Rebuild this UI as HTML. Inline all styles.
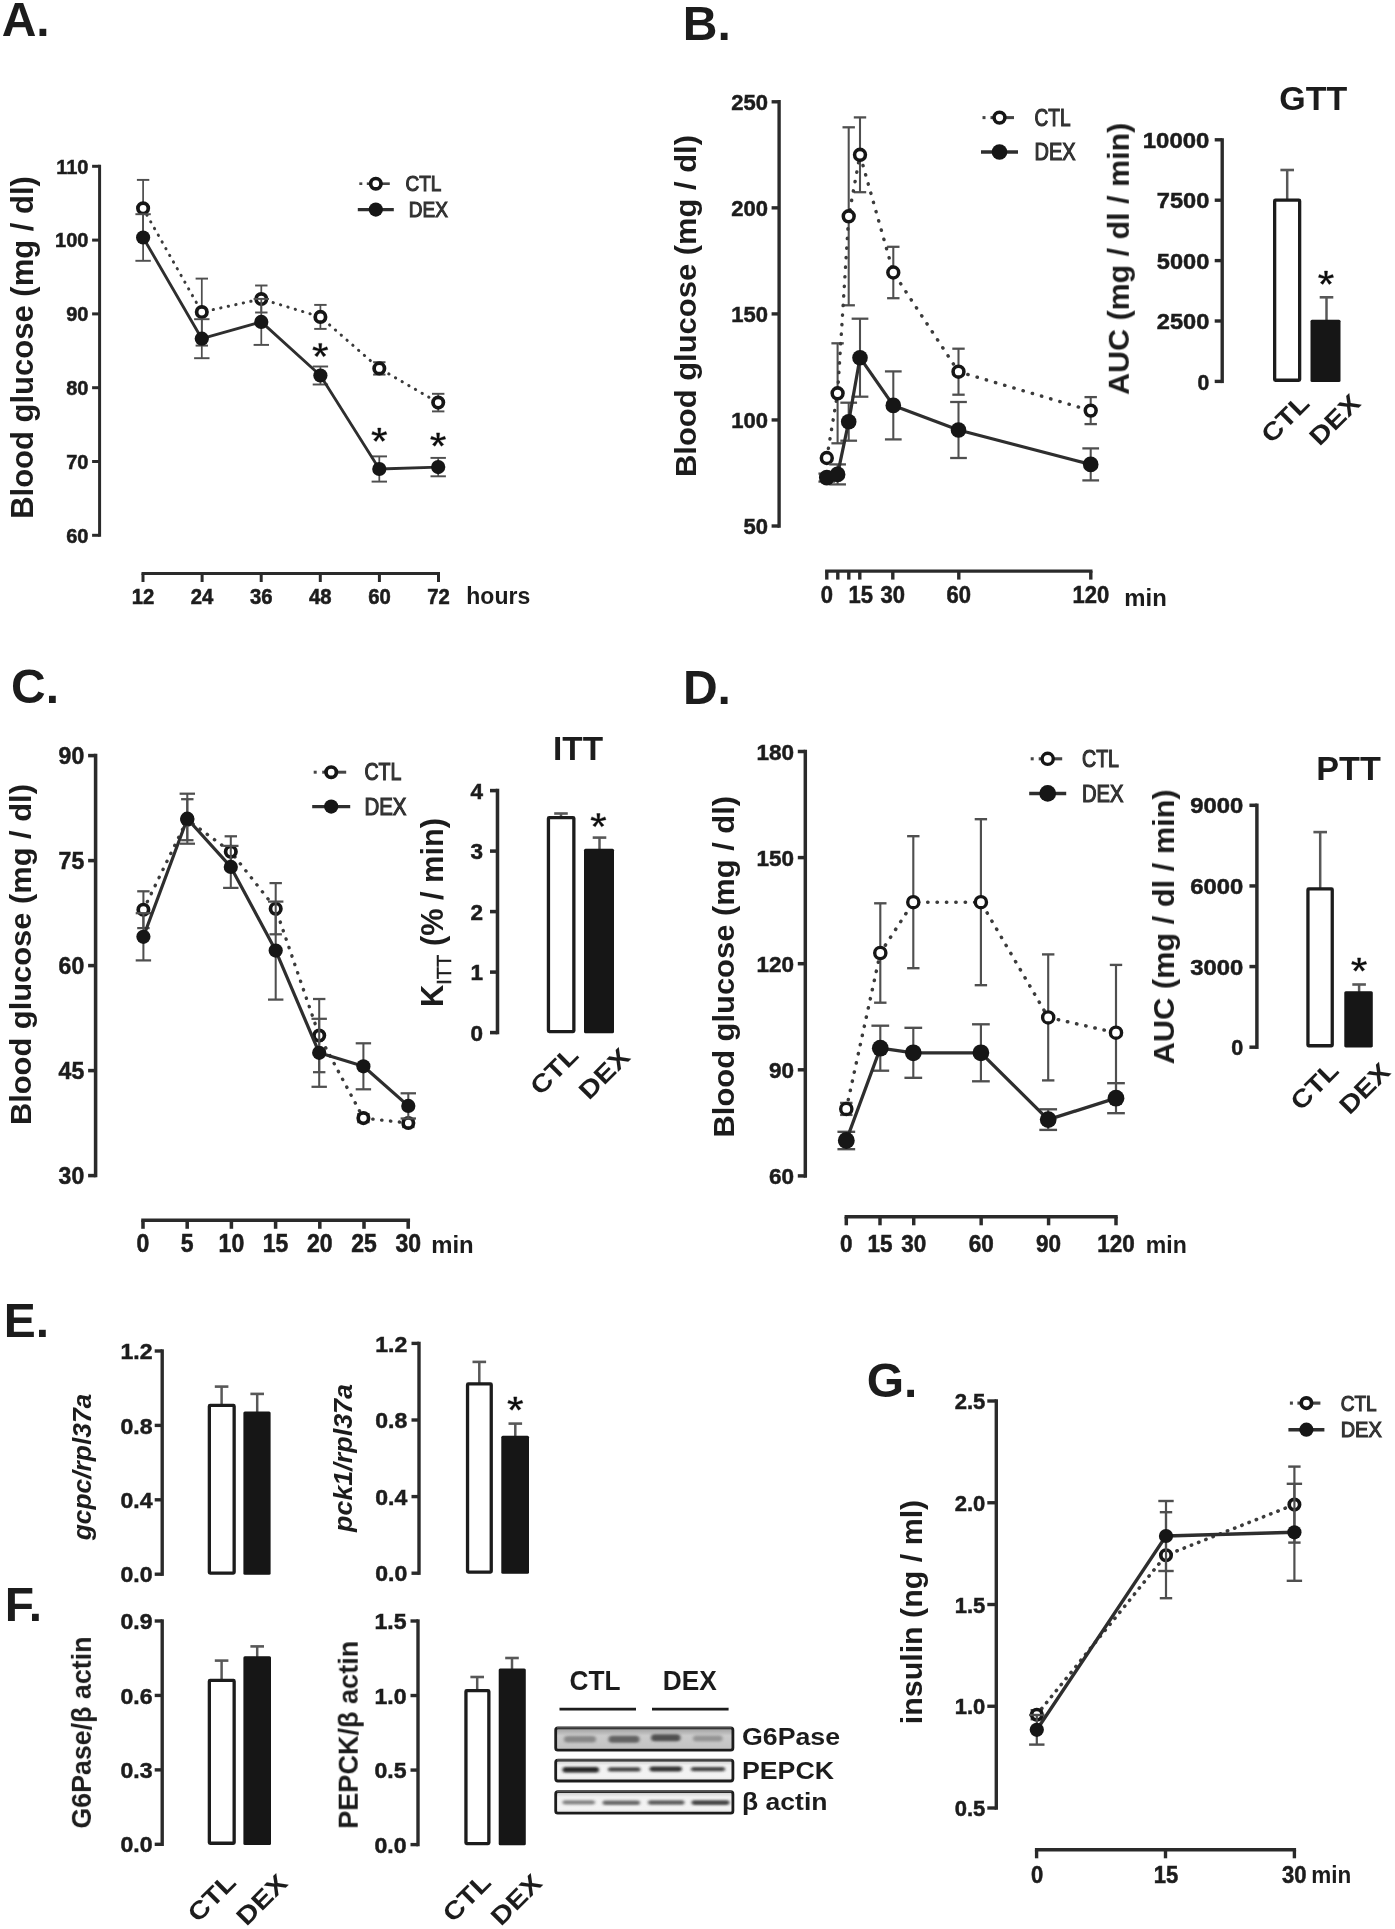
<!DOCTYPE html>
<html><head><meta charset="utf-8"><title>Figure</title>
<style>
html,body{margin:0;padding:0;background:#fff;}
svg{display:block;font-family:"Liberation Sans",sans-serif;font-weight:bold;fill:#1c1c1c;}
</style></head><body>
<svg width="1395" height="1929" viewBox="0 0 1395 1929">
<defs>
<linearGradient id="g1" x1="0" y1="0" x2="0" y2="1"><stop offset="0" stop-color="#9c9c9c"/><stop offset="0.35" stop-color="#cbcbcb"/><stop offset="1" stop-color="#c2c2c2"/></linearGradient>
<linearGradient id="g2" x1="0" y1="0" x2="0" y2="1"><stop offset="0" stop-color="#c8c8c8"/><stop offset="0.25" stop-color="#f1f1f1"/><stop offset="0.8" stop-color="#f3f3f3"/><stop offset="1" stop-color="#dcdcdc"/></linearGradient>
<filter id="bb" x="-20%" y="-100%" width="140%" height="300%"><feGaussianBlur stdDeviation="1.6 1.1"/></filter>
<filter id="bl" x="-5%" y="-5%" width="110%" height="110%"><feGaussianBlur stdDeviation="0.5"/></filter>
<filter id="mid" x="-2%" y="-2%" width="104%" height="104%"><feGaussianBlur stdDeviation="0.65"/></filter>
<filter id="sharp" x="-2%" y="-2%" width="104%" height="104%"><feGaussianBlur stdDeviation="0.5"/></filter>
<filter id="soft" x="-2%" y="-2%" width="104%" height="104%"><feGaussianBlur stdDeviation="0.75"/></filter>
</defs>
<rect x="0" y="0" width="1395" height="1929" fill="#fff"/>
<g filter="url(#soft)">
<line x1="99.6" y1="164.8" x2="99.6" y2="536.8" stroke="#2b2b2b" stroke-width="3"/>
<line x1="92.1" y1="166.3" x2="99.6" y2="166.3" stroke="#2b2b2b" stroke-width="3"/>
<text x="88.4" y="173.6" font-size="20" text-anchor="end" stroke="#1c1c1c" stroke-width="0.5">110</text>
<line x1="92.1" y1="240.1" x2="99.6" y2="240.1" stroke="#2b2b2b" stroke-width="3"/>
<text x="88.4" y="247.4" font-size="20" text-anchor="end" stroke="#1c1c1c" stroke-width="0.5">100</text>
<line x1="92.1" y1="313.9" x2="99.6" y2="313.9" stroke="#2b2b2b" stroke-width="3"/>
<text x="88.4" y="321.2" font-size="20" text-anchor="end" stroke="#1c1c1c" stroke-width="0.5">90</text>
<line x1="92.1" y1="387.7" x2="99.6" y2="387.7" stroke="#2b2b2b" stroke-width="3"/>
<text x="88.4" y="395" font-size="20" text-anchor="end" stroke="#1c1c1c" stroke-width="0.5">80</text>
<line x1="92.1" y1="461.5" x2="99.6" y2="461.5" stroke="#2b2b2b" stroke-width="3"/>
<text x="88.4" y="468.8" font-size="20" text-anchor="end" stroke="#1c1c1c" stroke-width="0.5">70</text>
<line x1="92.1" y1="535.3" x2="99.6" y2="535.3" stroke="#2b2b2b" stroke-width="3"/>
<text x="88.4" y="542.6" font-size="20" text-anchor="end" stroke="#1c1c1c" stroke-width="0.5">60</text>
<line x1="141.5" y1="573.5" x2="440" y2="573.5" stroke="#2b2b2b" stroke-width="3"/>
<line x1="143" y1="573.5" x2="143" y2="582" stroke="#2b2b2b" stroke-width="3"/>
<line x1="202.1" y1="573.5" x2="202.1" y2="582" stroke="#2b2b2b" stroke-width="3"/>
<line x1="261.2" y1="573.5" x2="261.2" y2="582" stroke="#2b2b2b" stroke-width="3"/>
<line x1="320.3" y1="573.5" x2="320.3" y2="582" stroke="#2b2b2b" stroke-width="3"/>
<line x1="379.4" y1="573.5" x2="379.4" y2="582" stroke="#2b2b2b" stroke-width="3"/>
<line x1="438.5" y1="573.5" x2="438.5" y2="582" stroke="#2b2b2b" stroke-width="3"/>
<text x="0" y="0" font-size="19.5" text-anchor="middle" transform="translate(143 603.8) scale(1.04 1.14)" stroke="#1c1c1c" stroke-width="0.5">12</text>
<text x="0" y="0" font-size="19.5" text-anchor="middle" transform="translate(202.1 603.8) scale(1.04 1.14)" stroke="#1c1c1c" stroke-width="0.5">24</text>
<text x="0" y="0" font-size="19.5" text-anchor="middle" transform="translate(261.2 603.8) scale(1.04 1.14)" stroke="#1c1c1c" stroke-width="0.5">36</text>
<text x="0" y="0" font-size="19.5" text-anchor="middle" transform="translate(320.3 603.8) scale(1.04 1.14)" stroke="#1c1c1c" stroke-width="0.5">48</text>
<text x="0" y="0" font-size="19.5" text-anchor="middle" transform="translate(379.4 603.8) scale(1.04 1.14)" stroke="#1c1c1c" stroke-width="0.5">60</text>
<text x="0" y="0" font-size="19.5" text-anchor="middle" transform="translate(438.5 603.8) scale(1.04 1.14)" stroke="#1c1c1c" stroke-width="0.5">72</text>
<text x="0" y="0" font-size="21.5" transform="translate(466.3 603.8) scale(1.07 1.15)">hours</text>
<line x1="143.1" y1="179.9" x2="143.1" y2="236.7" stroke="#505050" stroke-width="1.75"/>
<line x1="136.9" y1="179.9" x2="149.3" y2="179.9" stroke="#505050" stroke-width="1.95"/>
<line x1="136.9" y1="236.7" x2="149.3" y2="236.7" stroke="#505050" stroke-width="1.95"/>
<line x1="201.8" y1="278.6" x2="201.8" y2="345.6" stroke="#505050" stroke-width="1.75"/>
<line x1="195.6" y1="278.6" x2="208" y2="278.6" stroke="#505050" stroke-width="1.95"/>
<line x1="195.6" y1="345.6" x2="208" y2="345.6" stroke="#505050" stroke-width="1.95"/>
<line x1="261.3" y1="285.5" x2="261.3" y2="312.5" stroke="#505050" stroke-width="1.75"/>
<line x1="255.1" y1="285.5" x2="267.5" y2="285.5" stroke="#505050" stroke-width="1.95"/>
<line x1="255.1" y1="312.5" x2="267.5" y2="312.5" stroke="#505050" stroke-width="1.95"/>
<line x1="320.4" y1="304.9" x2="320.4" y2="328.9" stroke="#505050" stroke-width="1.75"/>
<line x1="314.2" y1="304.9" x2="326.6" y2="304.9" stroke="#505050" stroke-width="1.95"/>
<line x1="314.2" y1="328.9" x2="326.6" y2="328.9" stroke="#505050" stroke-width="1.95"/>
<line x1="379.3" y1="362.2" x2="379.3" y2="374.6" stroke="#505050" stroke-width="1.75"/>
<line x1="373.1" y1="362.2" x2="385.5" y2="362.2" stroke="#505050" stroke-width="1.95"/>
<line x1="373.1" y1="374.6" x2="385.5" y2="374.6" stroke="#505050" stroke-width="1.95"/>
<line x1="438.2" y1="393.8" x2="438.2" y2="411.4" stroke="#505050" stroke-width="1.75"/>
<line x1="432" y1="393.8" x2="444.4" y2="393.8" stroke="#505050" stroke-width="1.95"/>
<line x1="432" y1="411.4" x2="444.4" y2="411.4" stroke="#505050" stroke-width="1.95"/>
<path d="M143.1 208.3 L201.8 312.1 L261.3 299 L320.4 316.9 L379.3 368.4 L438.2 402.6" fill="none" stroke="#3a3a3a" stroke-width="3" stroke-dasharray="0.3 7.4" stroke-linecap="round"/>
<circle cx="143.1" cy="208.3" r="5.2" fill="#fff" stroke="#141414" stroke-width="3.7"/>
<circle cx="201.8" cy="312.1" r="5.2" fill="#fff" stroke="#141414" stroke-width="3.7"/>
<circle cx="261.3" cy="299" r="5.2" fill="#fff" stroke="#141414" stroke-width="3.7"/>
<circle cx="320.4" cy="316.9" r="5.2" fill="#fff" stroke="#141414" stroke-width="3.7"/>
<circle cx="379.3" cy="368.4" r="5.2" fill="#fff" stroke="#141414" stroke-width="3.7"/>
<circle cx="438.2" cy="402.6" r="5.2" fill="#fff" stroke="#141414" stroke-width="3.7"/>
<line x1="143.1" y1="214.2" x2="143.1" y2="260.8" stroke="#505050" stroke-width="1.75"/>
<line x1="135.4" y1="214.2" x2="150.8" y2="214.2" stroke="#505050" stroke-width="1.95"/>
<line x1="135.4" y1="260.8" x2="150.8" y2="260.8" stroke="#505050" stroke-width="1.95"/>
<line x1="201.8" y1="319.2" x2="201.8" y2="358.2" stroke="#505050" stroke-width="1.75"/>
<line x1="194.1" y1="319.2" x2="209.5" y2="319.2" stroke="#505050" stroke-width="1.95"/>
<line x1="194.1" y1="358.2" x2="209.5" y2="358.2" stroke="#505050" stroke-width="1.95"/>
<line x1="261.3" y1="298.9" x2="261.3" y2="344.9" stroke="#505050" stroke-width="1.75"/>
<line x1="253.6" y1="298.9" x2="269" y2="298.9" stroke="#505050" stroke-width="1.95"/>
<line x1="253.6" y1="344.9" x2="269" y2="344.9" stroke="#505050" stroke-width="1.95"/>
<line x1="320.4" y1="366.5" x2="320.4" y2="384.5" stroke="#505050" stroke-width="1.75"/>
<line x1="312.7" y1="366.5" x2="328.1" y2="366.5" stroke="#505050" stroke-width="1.95"/>
<line x1="312.7" y1="384.5" x2="328.1" y2="384.5" stroke="#505050" stroke-width="1.95"/>
<line x1="379.3" y1="456.4" x2="379.3" y2="481.6" stroke="#505050" stroke-width="1.75"/>
<line x1="371.6" y1="456.4" x2="387" y2="456.4" stroke="#505050" stroke-width="1.95"/>
<line x1="371.6" y1="481.6" x2="387" y2="481.6" stroke="#505050" stroke-width="1.95"/>
<line x1="438.2" y1="457.9" x2="438.2" y2="476.3" stroke="#505050" stroke-width="1.75"/>
<line x1="430.5" y1="457.9" x2="445.9" y2="457.9" stroke="#505050" stroke-width="1.95"/>
<line x1="430.5" y1="476.3" x2="445.9" y2="476.3" stroke="#505050" stroke-width="1.95"/>
<path d="M143.1 237.5 L201.8 338.7 L261.3 321.9 L320.4 375.5 L379.3 469 L438.2 467.1" fill="none" stroke="#2e2e2e" stroke-width="2.85" stroke-linejoin="round"/>
<circle cx="143.1" cy="237.5" r="7.1" fill="#141414"/>
<circle cx="201.8" cy="338.7" r="7.1" fill="#141414"/>
<circle cx="261.3" cy="321.9" r="7.1" fill="#141414"/>
<circle cx="320.4" cy="375.5" r="7.1" fill="#141414"/>
<circle cx="379.3" cy="469" r="7.1" fill="#141414"/>
<circle cx="438.2" cy="467.1" r="7.1" fill="#141414"/>
<line x1="359.3" y1="183.7" x2="362.3" y2="183.7" stroke="#444" stroke-width="2.65"/>
<line x1="366.8" y1="183.7" x2="389.8" y2="183.7" stroke="#444" stroke-width="2.65"/>
<circle cx="375.8" cy="183.7" r="5.2" fill="#fff" stroke="#141414" stroke-width="3.7"/>
<line x1="357.8" y1="209.6" x2="393.8" y2="209.6" stroke="#2e2e2e" stroke-width="3.05"/>
<circle cx="375.8" cy="209.6" r="7.1" fill="#141414"/>
<text x="0" y="0" font-size="19" font-weight="normal" fill="#333" transform="translate(405.5 191.34) scale(1 1.12)" stroke="#2e2e2e" stroke-width="0.95">CTL</text>
<text x="0" y="0" font-size="19" font-weight="normal" fill="#333" transform="translate(408.8 217.24) scale(1 1.12)" stroke="#2e2e2e" stroke-width="0.95">DEX</text>
<path d="M321.16 350.3 L321.87 343.4 L318.73 343.4 L319.44 350.3Z M320.57 351.06 L327.87 349.55 L326.9 346.79 L320.03 349.54Z M319.6 350.77 L323.41 356.73 L325.95 355.03 L321 349.83Z M319.6 349.83 L314.65 355.03 L317.19 356.73 L321 350.77Z M320.57 349.54 L313.7 346.79 L312.73 349.55 L320.03 351.06Z" fill="#111" stroke="#111" stroke-width="0.4" stroke-linejoin="round"/>
<circle cx="320.3" cy="350.3" r="1.5" fill="#111"/>
<path d="M380.16 435 L380.87 428.1 L377.73 428.1 L378.44 435Z M379.57 435.76 L386.87 434.25 L385.9 431.49 L379.03 434.24Z M378.6 435.47 L382.41 441.43 L384.95 439.73 L380 434.53Z M378.6 434.53 L373.65 439.73 L376.19 441.43 L380 435.47Z M379.57 434.24 L372.7 431.49 L371.73 434.25 L379.03 435.76Z" fill="#111" stroke="#111" stroke-width="0.4" stroke-linejoin="round"/>
<circle cx="379.3" cy="435" r="1.5" fill="#111"/>
<path d="M438.96 439.8 L439.67 432.9 L436.53 432.9 L437.24 439.8Z M438.37 440.56 L445.67 439.05 L444.7 436.29 L437.83 439.04Z M437.4 440.27 L441.21 446.23 L443.75 444.53 L438.8 439.33Z M437.4 439.33 L432.45 444.53 L434.99 446.23 L438.8 440.27Z M438.37 439.04 L431.5 436.29 L430.53 439.05 L437.83 440.56Z" fill="#111" stroke="#111" stroke-width="0.4" stroke-linejoin="round"/>
<circle cx="438.1" cy="439.8" r="1.5" fill="#111"/>
<line x1="779.1" y1="100.11" x2="779.1" y2="527.7" stroke="#2b2b2b" stroke-width="3.39"/>
<line x1="771.6" y1="101.8" x2="779.1" y2="101.8" stroke="#2b2b2b" stroke-width="3.39"/>
<text x="768" y="109.8" font-size="22" text-anchor="end" stroke="#1c1c1c" stroke-width="0.5">250</text>
<line x1="771.6" y1="207.85" x2="779.1" y2="207.85" stroke="#2b2b2b" stroke-width="3.39"/>
<text x="768" y="215.85" font-size="22" text-anchor="end" stroke="#1c1c1c" stroke-width="0.5">200</text>
<line x1="771.6" y1="313.9" x2="779.1" y2="313.9" stroke="#2b2b2b" stroke-width="3.39"/>
<text x="768" y="321.9" font-size="22" text-anchor="end" stroke="#1c1c1c" stroke-width="0.5">150</text>
<line x1="771.6" y1="419.95" x2="779.1" y2="419.95" stroke="#2b2b2b" stroke-width="3.39"/>
<text x="768" y="427.95" font-size="22" text-anchor="end" stroke="#1c1c1c" stroke-width="0.5">100</text>
<line x1="771.6" y1="526" x2="779.1" y2="526" stroke="#2b2b2b" stroke-width="3.39"/>
<text x="768" y="534" font-size="22" text-anchor="end" stroke="#1c1c1c" stroke-width="0.5">50</text>
<line x1="825.1" y1="571.1" x2="1092.49" y2="571.1" stroke="#2b2b2b" stroke-width="3.39"/>
<line x1="826.8" y1="571.1" x2="826.8" y2="579.6" stroke="#2b2b2b" stroke-width="3.39"/>
<line x1="837.8" y1="571.1" x2="837.8" y2="579.6" stroke="#2b2b2b" stroke-width="3.39"/>
<line x1="848.8" y1="571.1" x2="848.8" y2="579.6" stroke="#2b2b2b" stroke-width="3.39"/>
<line x1="859.8" y1="571.1" x2="859.8" y2="579.6" stroke="#2b2b2b" stroke-width="3.39"/>
<line x1="892.8" y1="571.1" x2="892.8" y2="579.6" stroke="#2b2b2b" stroke-width="3.39"/>
<line x1="958.8" y1="571.1" x2="958.8" y2="579.6" stroke="#2b2b2b" stroke-width="3.39"/>
<line x1="1090.8" y1="571.1" x2="1090.8" y2="579.6" stroke="#2b2b2b" stroke-width="3.39"/>
<text x="0" y="0" font-size="22" text-anchor="middle" transform="translate(826.8 603.3) scale(1 1.1)" stroke="#1c1c1c" stroke-width="0.5">0</text>
<text x="0" y="0" font-size="22" text-anchor="middle" transform="translate(860.8 603.3) scale(1 1.1)" stroke="#1c1c1c" stroke-width="0.5">15</text>
<text x="0" y="0" font-size="22" text-anchor="middle" transform="translate(892.8 603.3) scale(1 1.1)" stroke="#1c1c1c" stroke-width="0.5">30</text>
<text x="0" y="0" font-size="22" text-anchor="middle" transform="translate(958.8 603.3) scale(1 1.1)" stroke="#1c1c1c" stroke-width="0.5">60</text>
<text x="0" y="0" font-size="22" text-anchor="middle" transform="translate(1090.8 603.3) scale(1 1.1)" stroke="#1c1c1c" stroke-width="0.5">120</text>
<text x="0" y="0" font-size="22.5" textLength="42.5" lengthAdjust="spacingAndGlyphs" transform="translate(1124.3 605.6) scale(1 1.06)">min</text>
<line x1="837.6" y1="343.3" x2="837.6" y2="443.3" stroke="#505050" stroke-width="2.08"/>
<line x1="831.4" y1="343.3" x2="843.8" y2="343.3" stroke="#505050" stroke-width="2.28"/>
<line x1="831.4" y1="443.3" x2="843.8" y2="443.3" stroke="#505050" stroke-width="2.28"/>
<line x1="848.7" y1="127.3" x2="848.7" y2="305.3" stroke="#505050" stroke-width="2.08"/>
<line x1="842.5" y1="127.3" x2="854.9" y2="127.3" stroke="#505050" stroke-width="2.28"/>
<line x1="842.5" y1="305.3" x2="854.9" y2="305.3" stroke="#505050" stroke-width="2.28"/>
<line x1="860" y1="117.4" x2="860" y2="192.2" stroke="#505050" stroke-width="2.08"/>
<line x1="853.8" y1="117.4" x2="866.2" y2="117.4" stroke="#505050" stroke-width="2.28"/>
<line x1="853.8" y1="192.2" x2="866.2" y2="192.2" stroke="#505050" stroke-width="2.28"/>
<line x1="893.3" y1="246.8" x2="893.3" y2="298.2" stroke="#505050" stroke-width="2.08"/>
<line x1="887.1" y1="246.8" x2="899.5" y2="246.8" stroke="#505050" stroke-width="2.28"/>
<line x1="887.1" y1="298.2" x2="899.5" y2="298.2" stroke="#505050" stroke-width="2.28"/>
<line x1="958.5" y1="348.7" x2="958.5" y2="394.7" stroke="#505050" stroke-width="2.08"/>
<line x1="952.3" y1="348.7" x2="964.7" y2="348.7" stroke="#505050" stroke-width="2.28"/>
<line x1="952.3" y1="394.7" x2="964.7" y2="394.7" stroke="#505050" stroke-width="2.28"/>
<line x1="1090.7" y1="397.1" x2="1090.7" y2="424.1" stroke="#505050" stroke-width="2.08"/>
<line x1="1084.5" y1="397.1" x2="1096.9" y2="397.1" stroke="#505050" stroke-width="2.28"/>
<line x1="1084.5" y1="424.1" x2="1096.9" y2="424.1" stroke="#505050" stroke-width="2.28"/>
<path d="M826.8 458 L837.6 393.3 L848.7 216.3 L860 154.8 L893.3 272.5 L958.5 371.7 L1090.7 410.6" fill="none" stroke="#3a3a3a" stroke-width="3.39" stroke-dasharray="0.34 9.25" stroke-linecap="round"/>
<circle cx="826.8" cy="458" r="5.42" fill="#fff" stroke="#141414" stroke-width="3.52"/>
<circle cx="837.6" cy="393.3" r="5.42" fill="#fff" stroke="#141414" stroke-width="3.52"/>
<circle cx="848.7" cy="216.3" r="5.42" fill="#fff" stroke="#141414" stroke-width="3.52"/>
<circle cx="860" cy="154.8" r="5.42" fill="#fff" stroke="#141414" stroke-width="3.52"/>
<circle cx="893.3" cy="272.5" r="5.42" fill="#fff" stroke="#141414" stroke-width="3.52"/>
<circle cx="958.5" cy="371.7" r="5.42" fill="#fff" stroke="#141414" stroke-width="3.52"/>
<circle cx="1090.7" cy="410.6" r="5.42" fill="#fff" stroke="#141414" stroke-width="3.52"/>
<line x1="826.8" y1="473.6" x2="826.8" y2="481.6" stroke="#505050" stroke-width="2.08"/>
<line x1="818.44" y1="473.6" x2="835.16" y2="473.6" stroke="#505050" stroke-width="2.28"/>
<line x1="818.44" y1="481.6" x2="835.16" y2="481.6" stroke="#505050" stroke-width="2.28"/>
<line x1="837.6" y1="464.4" x2="837.6" y2="484.4" stroke="#505050" stroke-width="2.08"/>
<line x1="829.24" y1="464.4" x2="845.96" y2="464.4" stroke="#505050" stroke-width="2.28"/>
<line x1="829.24" y1="484.4" x2="845.96" y2="484.4" stroke="#505050" stroke-width="2.28"/>
<line x1="848.7" y1="402.7" x2="848.7" y2="440.7" stroke="#505050" stroke-width="2.08"/>
<line x1="840.34" y1="402.7" x2="857.06" y2="402.7" stroke="#505050" stroke-width="2.28"/>
<line x1="840.34" y1="440.7" x2="857.06" y2="440.7" stroke="#505050" stroke-width="2.28"/>
<line x1="860" y1="318.7" x2="860" y2="396.7" stroke="#505050" stroke-width="2.08"/>
<line x1="851.64" y1="318.7" x2="868.36" y2="318.7" stroke="#505050" stroke-width="2.28"/>
<line x1="851.64" y1="396.7" x2="868.36" y2="396.7" stroke="#505050" stroke-width="2.28"/>
<line x1="893.3" y1="371.4" x2="893.3" y2="439.4" stroke="#505050" stroke-width="2.08"/>
<line x1="884.94" y1="371.4" x2="901.66" y2="371.4" stroke="#505050" stroke-width="2.28"/>
<line x1="884.94" y1="439.4" x2="901.66" y2="439.4" stroke="#505050" stroke-width="2.28"/>
<line x1="958.5" y1="402" x2="958.5" y2="458" stroke="#505050" stroke-width="2.08"/>
<line x1="950.14" y1="402" x2="966.86" y2="402" stroke="#505050" stroke-width="2.28"/>
<line x1="950.14" y1="458" x2="966.86" y2="458" stroke="#505050" stroke-width="2.28"/>
<line x1="1090.7" y1="448.4" x2="1090.7" y2="480.4" stroke="#505050" stroke-width="2.08"/>
<line x1="1082.34" y1="448.4" x2="1099.06" y2="448.4" stroke="#505050" stroke-width="2.28"/>
<line x1="1082.34" y1="480.4" x2="1099.06" y2="480.4" stroke="#505050" stroke-width="2.28"/>
<path d="M826.8 477.6 L837.6 474.4 L848.7 421.7 L860 357.7 L893.3 405.4 L958.5 430 L1090.7 464.4" fill="none" stroke="#2e2e2e" stroke-width="3.22" stroke-linejoin="round"/>
<circle cx="826.8" cy="477.6" r="7.82" fill="#141414"/>
<circle cx="837.6" cy="474.4" r="7.82" fill="#141414"/>
<circle cx="848.7" cy="421.7" r="7.82" fill="#141414"/>
<circle cx="860" cy="357.7" r="7.82" fill="#141414"/>
<circle cx="893.3" cy="405.4" r="7.82" fill="#141414"/>
<circle cx="958.5" cy="430" r="7.82" fill="#141414"/>
<circle cx="1090.7" cy="464.4" r="7.82" fill="#141414"/>
<line x1="982.5" y1="117.6" x2="985.5" y2="117.6" stroke="#444" stroke-width="3.02"/>
<line x1="990.5" y1="117.6" x2="1014" y2="117.6" stroke="#444" stroke-width="3.02"/>
<circle cx="999.5" cy="117.6" r="5.42" fill="#fff" stroke="#141414" stroke-width="3.52"/>
<line x1="981" y1="152" x2="1018" y2="152" stroke="#2e2e2e" stroke-width="3.42"/>
<circle cx="999.5" cy="152" r="7.82" fill="#141414"/>
<text x="0" y="0" font-size="20" textLength="36" lengthAdjust="spacingAndGlyphs" font-weight="normal" fill="#333" transform="translate(1034.6 125.7) scale(1 1.15)" stroke="#2e2e2e" stroke-width="0.95">CTL</text>
<text x="0" y="0" font-size="20" textLength="41" lengthAdjust="spacingAndGlyphs" font-weight="normal" fill="#333" transform="translate(1034.6 160.1) scale(1 1.15)" stroke="#2e2e2e" stroke-width="0.95">DEX</text>
<line x1="1222.2" y1="138.21" x2="1222.2" y2="383.09" stroke="#2b2b2b" stroke-width="3.39"/>
<line x1="1214.7" y1="139.8" x2="1222.2" y2="139.8" stroke="#2b2b2b" stroke-width="3.39"/>
<text x="1209.3" y="147.9" font-size="22.5" text-anchor="end" textLength="66.5" lengthAdjust="spacingAndGlyphs" stroke="#1c1c1c" stroke-width="0.5">10000</text>
<line x1="1214.7" y1="200.2" x2="1222.2" y2="200.2" stroke="#2b2b2b" stroke-width="3.39"/>
<text x="1209.3" y="208.3" font-size="22.5" text-anchor="end" textLength="52.5" lengthAdjust="spacingAndGlyphs" stroke="#1c1c1c" stroke-width="0.5">7500</text>
<line x1="1214.7" y1="260.6" x2="1222.2" y2="260.6" stroke="#2b2b2b" stroke-width="3.39"/>
<text x="1209.3" y="268.7" font-size="22.5" text-anchor="end" textLength="52.5" lengthAdjust="spacingAndGlyphs" stroke="#1c1c1c" stroke-width="0.5">5000</text>
<line x1="1214.7" y1="321" x2="1222.2" y2="321" stroke="#2b2b2b" stroke-width="3.39"/>
<text x="1209.3" y="329.1" font-size="22.5" text-anchor="end" textLength="52.5" lengthAdjust="spacingAndGlyphs" stroke="#1c1c1c" stroke-width="0.5">2500</text>
<line x1="1214.7" y1="381.4" x2="1222.2" y2="381.4" stroke="#2b2b2b" stroke-width="3.39"/>
<text x="1209.3" y="389.5" font-size="22.5" text-anchor="end" textLength="11.8" lengthAdjust="spacingAndGlyphs" stroke="#1c1c1c" stroke-width="0.5">0</text>
<line x1="1287.2" y1="170" x2="1287.2" y2="200.5" stroke="#585858" stroke-width="2.5"/>
<line x1="1280.4" y1="170" x2="1294" y2="170" stroke="#585858" stroke-width="2.6"/>
<line x1="1326.5" y1="297.3" x2="1326.5" y2="321.7" stroke="#585858" stroke-width="2.5"/>
<line x1="1319.7" y1="297.3" x2="1333.3" y2="297.3" stroke="#585858" stroke-width="2.6"/>
<rect x="1274.65" y="200.15" width="25" height="180.1" fill="#fff" stroke="#1c1c1c" stroke-width="3.3" rx="0.8"/>
<rect x="1310.5" y="319.7" width="30" height="62.2" fill="#161616" rx="1.5"/>
<path d="M1326.86 278 L1327.57 271.1 L1324.43 271.1 L1325.14 278Z M1326.27 278.76 L1333.57 277.25 L1332.6 274.49 L1325.73 277.24Z M1325.3 278.47 L1329.11 284.43 L1331.65 282.73 L1326.7 277.53Z M1325.3 277.53 L1320.35 282.73 L1322.89 284.43 L1326.7 278.47Z M1326.27 277.24 L1319.4 274.49 L1318.43 277.25 L1325.73 278.76Z" fill="#111" stroke="#111" stroke-width="0.4" stroke-linejoin="round"/>
<circle cx="1326" cy="278" r="1.5" fill="#111"/>
<line x1="95.6" y1="753.63" x2="95.6" y2="1177.37" stroke="#2b2b2b" stroke-width="3.54"/>
<line x1="88.1" y1="755.6" x2="95.6" y2="755.6" stroke="#2b2b2b" stroke-width="3.54"/>
<text x="84.2" y="763.9" font-size="23" text-anchor="end" stroke="#1c1c1c" stroke-width="0.5">90</text>
<line x1="88.1" y1="860.6" x2="95.6" y2="860.6" stroke="#2b2b2b" stroke-width="3.54"/>
<text x="84.2" y="868.9" font-size="23" text-anchor="end" stroke="#1c1c1c" stroke-width="0.5">75</text>
<line x1="88.1" y1="965.6" x2="95.6" y2="965.6" stroke="#2b2b2b" stroke-width="3.54"/>
<text x="84.2" y="973.9" font-size="23" text-anchor="end" stroke="#1c1c1c" stroke-width="0.5">60</text>
<line x1="88.1" y1="1070.6" x2="95.6" y2="1070.6" stroke="#2b2b2b" stroke-width="3.54"/>
<text x="84.2" y="1078.9" font-size="23" text-anchor="end" stroke="#1c1c1c" stroke-width="0.5">45</text>
<line x1="88.1" y1="1175.6" x2="95.6" y2="1175.6" stroke="#2b2b2b" stroke-width="3.54"/>
<text x="84.2" y="1183.9" font-size="23" text-anchor="end" stroke="#1c1c1c" stroke-width="0.5">30</text>
<line x1="141.23" y1="1220.3" x2="410.07" y2="1220.3" stroke="#2b2b2b" stroke-width="3.54"/>
<line x1="143" y1="1220.3" x2="143" y2="1228.8" stroke="#2b2b2b" stroke-width="3.54"/>
<line x1="187.2" y1="1220.3" x2="187.2" y2="1228.8" stroke="#2b2b2b" stroke-width="3.54"/>
<line x1="231.4" y1="1220.3" x2="231.4" y2="1228.8" stroke="#2b2b2b" stroke-width="3.54"/>
<line x1="275.6" y1="1220.3" x2="275.6" y2="1228.8" stroke="#2b2b2b" stroke-width="3.54"/>
<line x1="319.8" y1="1220.3" x2="319.8" y2="1228.8" stroke="#2b2b2b" stroke-width="3.54"/>
<line x1="364" y1="1220.3" x2="364" y2="1228.8" stroke="#2b2b2b" stroke-width="3.54"/>
<line x1="408.2" y1="1220.3" x2="408.2" y2="1228.8" stroke="#2b2b2b" stroke-width="3.54"/>
<text x="0" y="0" font-size="23" text-anchor="middle" transform="translate(143 1252.4) scale(1 1.1)" stroke="#1c1c1c" stroke-width="0.5">0</text>
<text x="0" y="0" font-size="23" text-anchor="middle" transform="translate(187.2 1252.4) scale(1 1.1)" stroke="#1c1c1c" stroke-width="0.5">5</text>
<text x="0" y="0" font-size="23" text-anchor="middle" transform="translate(231.4 1252.4) scale(1 1.1)" stroke="#1c1c1c" stroke-width="0.5">10</text>
<text x="0" y="0" font-size="23" text-anchor="middle" transform="translate(275.6 1252.4) scale(1 1.1)" stroke="#1c1c1c" stroke-width="0.5">15</text>
<text x="0" y="0" font-size="23" text-anchor="middle" transform="translate(319.8 1252.4) scale(1 1.1)" stroke="#1c1c1c" stroke-width="0.5">20</text>
<text x="0" y="0" font-size="23" text-anchor="middle" transform="translate(364 1252.4) scale(1 1.1)" stroke="#1c1c1c" stroke-width="0.5">25</text>
<text x="0" y="0" font-size="23" text-anchor="middle" transform="translate(408.2 1252.4) scale(1 1.1)" stroke="#1c1c1c" stroke-width="0.5">30</text>
<text x="0" y="0" font-size="22.5" textLength="42.5" lengthAdjust="spacingAndGlyphs" transform="translate(431.2 1253) scale(1 1.06)">min</text>
<line x1="143.4" y1="891.3" x2="143.4" y2="928.1" stroke="#505050" stroke-width="2.06"/>
<line x1="137.2" y1="891.3" x2="149.6" y2="891.3" stroke="#505050" stroke-width="2.26"/>
<line x1="137.2" y1="928.1" x2="149.6" y2="928.1" stroke="#505050" stroke-width="2.26"/>
<line x1="187.3" y1="799.2" x2="187.3" y2="840.2" stroke="#505050" stroke-width="2.06"/>
<line x1="181.1" y1="799.2" x2="193.5" y2="799.2" stroke="#505050" stroke-width="2.26"/>
<line x1="181.1" y1="840.2" x2="193.5" y2="840.2" stroke="#505050" stroke-width="2.26"/>
<line x1="230.8" y1="836.3" x2="230.8" y2="867.1" stroke="#505050" stroke-width="2.06"/>
<line x1="224.6" y1="836.3" x2="237" y2="836.3" stroke="#505050" stroke-width="2.26"/>
<line x1="224.6" y1="867.1" x2="237" y2="867.1" stroke="#505050" stroke-width="2.26"/>
<line x1="275.7" y1="883.1" x2="275.7" y2="934.3" stroke="#505050" stroke-width="2.06"/>
<line x1="269.5" y1="883.1" x2="281.9" y2="883.1" stroke="#505050" stroke-width="2.26"/>
<line x1="269.5" y1="934.3" x2="281.9" y2="934.3" stroke="#505050" stroke-width="2.26"/>
<line x1="319.2" y1="999" x2="319.2" y2="1072.2" stroke="#505050" stroke-width="2.06"/>
<line x1="313" y1="999" x2="325.4" y2="999" stroke="#505050" stroke-width="2.26"/>
<line x1="313" y1="1072.2" x2="325.4" y2="1072.2" stroke="#505050" stroke-width="2.26"/>
<line x1="363.4" y1="1114.1" x2="363.4" y2="1122.1" stroke="#505050" stroke-width="2.06"/>
<line x1="357.2" y1="1114.1" x2="369.6" y2="1114.1" stroke="#505050" stroke-width="2.26"/>
<line x1="357.2" y1="1122.1" x2="369.6" y2="1122.1" stroke="#505050" stroke-width="2.26"/>
<line x1="408.3" y1="1119" x2="408.3" y2="1127" stroke="#505050" stroke-width="2.06"/>
<line x1="402.1" y1="1119" x2="414.5" y2="1119" stroke="#505050" stroke-width="2.26"/>
<line x1="402.1" y1="1127" x2="414.5" y2="1127" stroke="#505050" stroke-width="2.26"/>
<path d="M143.4 909.7 L187.3 819.7 L230.8 851.7 L275.7 908.7 L319.2 1035.6 L363.4 1118.1 L408.3 1123" fill="none" stroke="#3a3a3a" stroke-width="3.36" stroke-dasharray="0.34 8.58" stroke-linecap="round"/>
<circle cx="143.4" cy="909.7" r="5.2" fill="#fff" stroke="#141414" stroke-width="3.7"/>
<circle cx="187.3" cy="819.7" r="5.2" fill="#fff" stroke="#141414" stroke-width="3.7"/>
<circle cx="230.8" cy="851.7" r="5.2" fill="#fff" stroke="#141414" stroke-width="3.7"/>
<circle cx="275.7" cy="908.7" r="5.2" fill="#fff" stroke="#141414" stroke-width="3.7"/>
<circle cx="319.2" cy="1035.6" r="5.2" fill="#fff" stroke="#141414" stroke-width="3.7"/>
<circle cx="363.4" cy="1118.1" r="5.2" fill="#fff" stroke="#141414" stroke-width="3.7"/>
<circle cx="408.3" cy="1123" r="5.2" fill="#fff" stroke="#141414" stroke-width="3.7"/>
<line x1="143.4" y1="913.2" x2="143.4" y2="960.4" stroke="#505050" stroke-width="2.06"/>
<line x1="135.7" y1="913.2" x2="151.1" y2="913.2" stroke="#505050" stroke-width="2.26"/>
<line x1="135.7" y1="960.4" x2="151.1" y2="960.4" stroke="#505050" stroke-width="2.26"/>
<line x1="187.3" y1="793.7" x2="187.3" y2="843.7" stroke="#505050" stroke-width="2.06"/>
<line x1="179.6" y1="793.7" x2="195" y2="793.7" stroke="#505050" stroke-width="2.26"/>
<line x1="179.6" y1="843.7" x2="195" y2="843.7" stroke="#505050" stroke-width="2.26"/>
<line x1="230.8" y1="845.9" x2="230.8" y2="887.9" stroke="#505050" stroke-width="2.06"/>
<line x1="223.1" y1="845.9" x2="238.5" y2="845.9" stroke="#505050" stroke-width="2.26"/>
<line x1="223.1" y1="887.9" x2="238.5" y2="887.9" stroke="#505050" stroke-width="2.26"/>
<line x1="275.7" y1="901.6" x2="275.7" y2="999.6" stroke="#505050" stroke-width="2.06"/>
<line x1="268" y1="901.6" x2="283.4" y2="901.6" stroke="#505050" stroke-width="2.26"/>
<line x1="268" y1="999.6" x2="283.4" y2="999.6" stroke="#505050" stroke-width="2.26"/>
<line x1="319.2" y1="1018.8" x2="319.2" y2="1086.8" stroke="#505050" stroke-width="2.06"/>
<line x1="311.5" y1="1018.8" x2="326.9" y2="1018.8" stroke="#505050" stroke-width="2.26"/>
<line x1="311.5" y1="1086.8" x2="326.9" y2="1086.8" stroke="#505050" stroke-width="2.26"/>
<line x1="363.4" y1="1043.3" x2="363.4" y2="1089.3" stroke="#505050" stroke-width="2.06"/>
<line x1="355.7" y1="1043.3" x2="371.1" y2="1043.3" stroke="#505050" stroke-width="2.26"/>
<line x1="355.7" y1="1089.3" x2="371.1" y2="1089.3" stroke="#505050" stroke-width="2.26"/>
<line x1="408.3" y1="1093.3" x2="408.3" y2="1118.5" stroke="#505050" stroke-width="2.06"/>
<line x1="400.6" y1="1093.3" x2="416" y2="1093.3" stroke="#505050" stroke-width="2.26"/>
<line x1="400.6" y1="1118.5" x2="416" y2="1118.5" stroke="#505050" stroke-width="2.26"/>
<path d="M143.4 936.8 L187.3 818.7 L230.8 866.9 L275.7 950.6 L319.2 1052.8 L363.4 1066.3 L408.3 1105.9" fill="none" stroke="#2e2e2e" stroke-width="3.19" stroke-linejoin="round"/>
<circle cx="143.4" cy="936.8" r="7.1" fill="#141414"/>
<circle cx="187.3" cy="818.7" r="7.1" fill="#141414"/>
<circle cx="230.8" cy="866.9" r="7.1" fill="#141414"/>
<circle cx="275.7" cy="950.6" r="7.1" fill="#141414"/>
<circle cx="319.2" cy="1052.8" r="7.1" fill="#141414"/>
<circle cx="363.4" cy="1066.3" r="7.1" fill="#141414"/>
<circle cx="408.3" cy="1105.9" r="7.1" fill="#141414"/>
<line x1="313.7" y1="772.2" x2="316.7" y2="772.2" stroke="#444" stroke-width="2.99"/>
<line x1="322.2" y1="772.2" x2="346.2" y2="772.2" stroke="#444" stroke-width="2.99"/>
<circle cx="331.2" cy="772.2" r="5.2" fill="#fff" stroke="#141414" stroke-width="3.7"/>
<line x1="312.2" y1="806.6" x2="350.2" y2="806.6" stroke="#2e2e2e" stroke-width="3.39"/>
<circle cx="331.2" cy="806.6" r="7.1" fill="#141414"/>
<text x="0" y="0" font-size="20" textLength="37" lengthAdjust="spacingAndGlyphs" font-weight="normal" fill="#333" transform="translate(364.4 780.36) scale(1 1.18)" stroke="#2e2e2e" stroke-width="0.95">CTL</text>
<text x="0" y="0" font-size="20" textLength="42" lengthAdjust="spacingAndGlyphs" font-weight="normal" fill="#333" transform="translate(364.4 814.76) scale(1 1.18)" stroke="#2e2e2e" stroke-width="0.95">DEX</text>
<line x1="497.5" y1="788.83" x2="497.5" y2="1034.37" stroke="#2b2b2b" stroke-width="3.54"/>
<line x1="490" y1="790.6" x2="497.5" y2="790.6" stroke="#2b2b2b" stroke-width="3.54"/>
<text x="483" y="798.7" font-size="22.5" text-anchor="end" stroke="#1c1c1c" stroke-width="0.5">4</text>
<line x1="490" y1="851.1" x2="497.5" y2="851.1" stroke="#2b2b2b" stroke-width="3.54"/>
<text x="483" y="859.2" font-size="22.5" text-anchor="end" stroke="#1c1c1c" stroke-width="0.5">3</text>
<line x1="490" y1="911.6" x2="497.5" y2="911.6" stroke="#2b2b2b" stroke-width="3.54"/>
<text x="483" y="919.7" font-size="22.5" text-anchor="end" stroke="#1c1c1c" stroke-width="0.5">2</text>
<line x1="490" y1="972.1" x2="497.5" y2="972.1" stroke="#2b2b2b" stroke-width="3.54"/>
<text x="483" y="980.2" font-size="22.5" text-anchor="end" stroke="#1c1c1c" stroke-width="0.5">1</text>
<line x1="490" y1="1032.6" x2="497.5" y2="1032.6" stroke="#2b2b2b" stroke-width="3.54"/>
<text x="483" y="1040.7" font-size="22.5" text-anchor="end" stroke="#1c1c1c" stroke-width="0.5">0</text>
<line x1="561" y1="813.5" x2="561" y2="817.9" stroke="#585858" stroke-width="2.5"/>
<line x1="554.2" y1="813.5" x2="567.8" y2="813.5" stroke="#585858" stroke-width="2.6"/>
<line x1="599.5" y1="837.6" x2="599.5" y2="850.7" stroke="#585858" stroke-width="2.5"/>
<line x1="592.7" y1="837.6" x2="606.3" y2="837.6" stroke="#585858" stroke-width="2.6"/>
<rect x="548.45" y="817.55" width="25.4" height="214" fill="#fff" stroke="#1c1c1c" stroke-width="3.3" rx="0.8"/>
<rect x="584" y="848.7" width="30" height="184.5" fill="#161616" rx="1.5"/>
<path d="M599.26 820.4 L599.97 813.5 L596.83 813.5 L597.54 820.4Z M598.67 821.16 L605.97 819.65 L605 816.89 L598.13 819.64Z M597.7 820.87 L601.51 826.83 L604.05 825.13 L599.1 819.93Z M597.7 819.93 L592.75 825.13 L595.29 826.83 L599.1 820.87Z M598.67 819.64 L591.8 816.89 L590.83 819.65 L598.13 821.16Z" fill="#111" stroke="#111" stroke-width="0.4" stroke-linejoin="round"/>
<circle cx="598.4" cy="820.4" r="1.5" fill="#111"/>
<line x1="805.3" y1="749.76" x2="805.3" y2="1177.64" stroke="#2b2b2b" stroke-width="3.48"/>
<line x1="797.8" y1="751.5" x2="805.3" y2="751.5" stroke="#2b2b2b" stroke-width="3.48"/>
<text x="794" y="759.6" font-size="22.5" text-anchor="end" stroke="#1c1c1c" stroke-width="0.5">180</text>
<line x1="797.8" y1="857.6" x2="805.3" y2="857.6" stroke="#2b2b2b" stroke-width="3.48"/>
<text x="794" y="865.7" font-size="22.5" text-anchor="end" stroke="#1c1c1c" stroke-width="0.5">150</text>
<line x1="797.8" y1="963.7" x2="805.3" y2="963.7" stroke="#2b2b2b" stroke-width="3.48"/>
<text x="794" y="971.8" font-size="22.5" text-anchor="end" stroke="#1c1c1c" stroke-width="0.5">120</text>
<line x1="797.8" y1="1069.8" x2="805.3" y2="1069.8" stroke="#2b2b2b" stroke-width="3.48"/>
<text x="794" y="1077.9" font-size="22.5" text-anchor="end" stroke="#1c1c1c" stroke-width="0.5">90</text>
<line x1="797.8" y1="1175.9" x2="805.3" y2="1175.9" stroke="#2b2b2b" stroke-width="3.48"/>
<text x="794" y="1184" font-size="22.5" text-anchor="end" stroke="#1c1c1c" stroke-width="0.5">60</text>
<line x1="844.56" y1="1216.8" x2="1117.74" y2="1216.8" stroke="#2b2b2b" stroke-width="3.48"/>
<line x1="846.3" y1="1216.8" x2="846.3" y2="1225.3" stroke="#2b2b2b" stroke-width="3.48"/>
<line x1="880.01" y1="1216.8" x2="880.01" y2="1225.3" stroke="#2b2b2b" stroke-width="3.48"/>
<line x1="913.72" y1="1216.8" x2="913.72" y2="1225.3" stroke="#2b2b2b" stroke-width="3.48"/>
<line x1="981.15" y1="1216.8" x2="981.15" y2="1225.3" stroke="#2b2b2b" stroke-width="3.48"/>
<line x1="1048.58" y1="1216.8" x2="1048.58" y2="1225.3" stroke="#2b2b2b" stroke-width="3.48"/>
<line x1="1116" y1="1216.8" x2="1116" y2="1225.3" stroke="#2b2b2b" stroke-width="3.48"/>
<text x="0" y="0" font-size="22.5" text-anchor="middle" transform="translate(846.3 1252) scale(1 1.1)" stroke="#1c1c1c" stroke-width="0.5">0</text>
<text x="0" y="0" font-size="22.5" text-anchor="middle" transform="translate(880.01 1252) scale(1 1.1)" stroke="#1c1c1c" stroke-width="0.5">15</text>
<text x="0" y="0" font-size="22.5" text-anchor="middle" transform="translate(913.72 1252) scale(1 1.1)" stroke="#1c1c1c" stroke-width="0.5">30</text>
<text x="0" y="0" font-size="22.5" text-anchor="middle" transform="translate(981.15 1252) scale(1 1.1)" stroke="#1c1c1c" stroke-width="0.5">60</text>
<text x="0" y="0" font-size="22.5" text-anchor="middle" transform="translate(1048.58 1252) scale(1 1.1)" stroke="#1c1c1c" stroke-width="0.5">90</text>
<text x="0" y="0" font-size="22.5" text-anchor="middle" transform="translate(1116 1252) scale(1 1.1)" stroke="#1c1c1c" stroke-width="0.5">120</text>
<text x="0" y="0" font-size="22.5" textLength="41" lengthAdjust="spacingAndGlyphs" transform="translate(1145.8 1253) scale(1 1.06)">min</text>
<line x1="846.3" y1="1102.9" x2="846.3" y2="1114.9" stroke="#505050" stroke-width="2.16"/>
<line x1="840.1" y1="1102.9" x2="852.5" y2="1102.9" stroke="#505050" stroke-width="2.36"/>
<line x1="840.1" y1="1114.9" x2="852.5" y2="1114.9" stroke="#505050" stroke-width="2.36"/>
<line x1="880.3" y1="903.3" x2="880.3" y2="1002.7" stroke="#505050" stroke-width="2.16"/>
<line x1="874.1" y1="903.3" x2="886.5" y2="903.3" stroke="#505050" stroke-width="2.36"/>
<line x1="874.1" y1="1002.7" x2="886.5" y2="1002.7" stroke="#505050" stroke-width="2.36"/>
<line x1="913.3" y1="836.2" x2="913.3" y2="968.2" stroke="#505050" stroke-width="2.16"/>
<line x1="907.1" y1="836.2" x2="919.5" y2="836.2" stroke="#505050" stroke-width="2.36"/>
<line x1="907.1" y1="968.2" x2="919.5" y2="968.2" stroke="#505050" stroke-width="2.36"/>
<line x1="980.9" y1="819.2" x2="980.9" y2="985.2" stroke="#505050" stroke-width="2.16"/>
<line x1="974.7" y1="819.2" x2="987.1" y2="819.2" stroke="#505050" stroke-width="2.36"/>
<line x1="974.7" y1="985.2" x2="987.1" y2="985.2" stroke="#505050" stroke-width="2.36"/>
<line x1="1048.2" y1="954.4" x2="1048.2" y2="1080.4" stroke="#505050" stroke-width="2.16"/>
<line x1="1042" y1="954.4" x2="1054.4" y2="954.4" stroke="#505050" stroke-width="2.36"/>
<line x1="1042" y1="1080.4" x2="1054.4" y2="1080.4" stroke="#505050" stroke-width="2.36"/>
<line x1="1116" y1="964.9" x2="1116" y2="1100.5" stroke="#505050" stroke-width="2.16"/>
<line x1="1109.8" y1="964.9" x2="1122.2" y2="964.9" stroke="#505050" stroke-width="2.36"/>
<line x1="1109.8" y1="1100.5" x2="1122.2" y2="1100.5" stroke="#505050" stroke-width="2.36"/>
<path d="M846.3 1108.9 L880.3 953 L913.3 902.2 L980.9 902.2 L1048.2 1017.4 L1116 1032.7" fill="none" stroke="#3a3a3a" stroke-width="3.48" stroke-dasharray="0.35 9.03" stroke-linecap="round"/>
<circle cx="846.3" cy="1108.9" r="5.58" fill="#fff" stroke="#141414" stroke-width="3.38"/>
<circle cx="880.3" cy="953" r="5.58" fill="#fff" stroke="#141414" stroke-width="3.38"/>
<circle cx="913.3" cy="902.2" r="5.58" fill="#fff" stroke="#141414" stroke-width="3.38"/>
<circle cx="980.9" cy="902.2" r="5.58" fill="#fff" stroke="#141414" stroke-width="3.38"/>
<circle cx="1048.2" cy="1017.4" r="5.58" fill="#fff" stroke="#141414" stroke-width="3.38"/>
<circle cx="1116" cy="1032.7" r="5.58" fill="#fff" stroke="#141414" stroke-width="3.38"/>
<line x1="846.3" y1="1131.8" x2="846.3" y2="1149.2" stroke="#505050" stroke-width="2.16"/>
<line x1="837.43" y1="1131.8" x2="855.17" y2="1131.8" stroke="#505050" stroke-width="2.36"/>
<line x1="837.43" y1="1149.2" x2="855.17" y2="1149.2" stroke="#505050" stroke-width="2.36"/>
<line x1="880.3" y1="1025.7" x2="880.3" y2="1070.7" stroke="#505050" stroke-width="2.16"/>
<line x1="871.43" y1="1025.7" x2="889.17" y2="1025.7" stroke="#505050" stroke-width="2.36"/>
<line x1="871.43" y1="1070.7" x2="889.17" y2="1070.7" stroke="#505050" stroke-width="2.36"/>
<line x1="913.3" y1="1027.8" x2="913.3" y2="1077.8" stroke="#505050" stroke-width="2.16"/>
<line x1="904.43" y1="1027.8" x2="922.17" y2="1027.8" stroke="#505050" stroke-width="2.36"/>
<line x1="904.43" y1="1077.8" x2="922.17" y2="1077.8" stroke="#505050" stroke-width="2.36"/>
<line x1="980.9" y1="1024.3" x2="980.9" y2="1081.3" stroke="#505050" stroke-width="2.16"/>
<line x1="972.03" y1="1024.3" x2="989.77" y2="1024.3" stroke="#505050" stroke-width="2.36"/>
<line x1="972.03" y1="1081.3" x2="989.77" y2="1081.3" stroke="#505050" stroke-width="2.36"/>
<line x1="1048.2" y1="1109.3" x2="1048.2" y2="1129.9" stroke="#505050" stroke-width="2.16"/>
<line x1="1039.33" y1="1109.3" x2="1057.07" y2="1109.3" stroke="#505050" stroke-width="2.36"/>
<line x1="1039.33" y1="1129.9" x2="1057.07" y2="1129.9" stroke="#505050" stroke-width="2.36"/>
<line x1="1116" y1="1083.2" x2="1116" y2="1113.2" stroke="#505050" stroke-width="2.16"/>
<line x1="1107.13" y1="1083.2" x2="1124.87" y2="1083.2" stroke="#505050" stroke-width="2.36"/>
<line x1="1107.13" y1="1113.2" x2="1124.87" y2="1113.2" stroke="#505050" stroke-width="2.36"/>
<path d="M846.3 1140.5 L880.3 1048.2 L913.3 1052.8 L980.9 1052.8 L1048.2 1119.6 L1116 1098.2" fill="none" stroke="#2e2e2e" stroke-width="3.31" stroke-linejoin="round"/>
<circle cx="846.3" cy="1140.5" r="8.38" fill="#141414"/>
<circle cx="880.3" cy="1048.2" r="8.38" fill="#141414"/>
<circle cx="913.3" cy="1052.8" r="8.38" fill="#141414"/>
<circle cx="980.9" cy="1052.8" r="8.38" fill="#141414"/>
<circle cx="1048.2" cy="1119.6" r="8.38" fill="#141414"/>
<circle cx="1116" cy="1098.2" r="8.38" fill="#141414"/>
<line x1="1030.7" y1="758.8" x2="1033.7" y2="758.8" stroke="#444" stroke-width="3.11"/>
<line x1="1038.7" y1="758.8" x2="1062.2" y2="758.8" stroke="#444" stroke-width="3.11"/>
<circle cx="1047.7" cy="758.8" r="5.58" fill="#fff" stroke="#141414" stroke-width="3.38"/>
<line x1="1029.2" y1="793.4" x2="1066.2" y2="793.4" stroke="#2e2e2e" stroke-width="3.51"/>
<circle cx="1047.7" cy="793.4" r="8.38" fill="#141414"/>
<text x="0" y="0" font-size="20" textLength="37" lengthAdjust="spacingAndGlyphs" font-weight="normal" fill="#333" transform="translate(1082 766.94) scale(1 1.17)" stroke="#2e2e2e" stroke-width="0.95">CTL</text>
<text x="0" y="0" font-size="20" textLength="41.5" lengthAdjust="spacingAndGlyphs" font-weight="normal" fill="#333" transform="translate(1082 801.54) scale(1 1.17)" stroke="#2e2e2e" stroke-width="0.95">DEX</text>
<line x1="1256.9" y1="803.56" x2="1256.9" y2="1048.94" stroke="#2b2b2b" stroke-width="3.48"/>
<line x1="1249.4" y1="805.3" x2="1256.9" y2="805.3" stroke="#2b2b2b" stroke-width="3.48"/>
<text x="1243.3" y="813.4" font-size="22.5" text-anchor="end" textLength="53" lengthAdjust="spacingAndGlyphs" stroke="#1c1c1c" stroke-width="0.5">9000</text>
<line x1="1249.4" y1="885.93" x2="1256.9" y2="885.93" stroke="#2b2b2b" stroke-width="3.48"/>
<text x="1243.3" y="894.03" font-size="22.5" text-anchor="end" textLength="53" lengthAdjust="spacingAndGlyphs" stroke="#1c1c1c" stroke-width="0.5">6000</text>
<line x1="1249.4" y1="966.57" x2="1256.9" y2="966.57" stroke="#2b2b2b" stroke-width="3.48"/>
<text x="1243.3" y="974.67" font-size="22.5" text-anchor="end" textLength="53" lengthAdjust="spacingAndGlyphs" stroke="#1c1c1c" stroke-width="0.5">3000</text>
<line x1="1249.4" y1="1047.2" x2="1256.9" y2="1047.2" stroke="#2b2b2b" stroke-width="3.48"/>
<text x="1243.3" y="1055.3" font-size="22.5" text-anchor="end" textLength="12" lengthAdjust="spacingAndGlyphs" stroke="#1c1c1c" stroke-width="0.5">0</text>
<line x1="1320.2" y1="832.1" x2="1320.2" y2="889.3" stroke="#585858" stroke-width="2.5"/>
<line x1="1313.4" y1="832.1" x2="1327" y2="832.1" stroke="#585858" stroke-width="2.6"/>
<line x1="1359.1" y1="984.5" x2="1359.1" y2="993.2" stroke="#585858" stroke-width="2.5"/>
<line x1="1352.3" y1="984.5" x2="1365.9" y2="984.5" stroke="#585858" stroke-width="2.6"/>
<rect x="1307.95" y="888.95" width="24.3" height="156.8" fill="#fff" stroke="#1c1c1c" stroke-width="3.3" rx="0.8"/>
<rect x="1344.3" y="991.2" width="28.5" height="56.2" fill="#161616" rx="1.5"/>
<path d="M1359.96 964.8 L1360.67 957.9 L1357.53 957.9 L1358.24 964.8Z M1359.37 965.56 L1366.67 964.05 L1365.7 961.29 L1358.83 964.04Z M1358.4 965.27 L1362.21 971.23 L1364.75 969.53 L1359.8 964.33Z M1358.4 964.33 L1353.45 969.53 L1355.99 971.23 L1359.8 965.27Z M1359.37 964.04 L1352.5 961.29 L1351.53 964.05 L1358.83 965.56Z" fill="#111" stroke="#111" stroke-width="0.4" stroke-linejoin="round"/>
<circle cx="1359.1" cy="964.8" r="1.5" fill="#111"/>
<line x1="162.2" y1="1349.31" x2="162.2" y2="1575.89" stroke="#2b2b2b" stroke-width="3.39"/>
<line x1="154.7" y1="1351" x2="162.2" y2="1351" stroke="#2b2b2b" stroke-width="3.39"/>
<text x="152.5" y="1359.1" font-size="22.5" text-anchor="end" textLength="32" lengthAdjust="spacingAndGlyphs" stroke="#1c1c1c" stroke-width="0.5">1.2</text>
<line x1="154.7" y1="1425.4" x2="162.2" y2="1425.4" stroke="#2b2b2b" stroke-width="3.39"/>
<text x="152.5" y="1433.5" font-size="22.5" text-anchor="end" textLength="32" lengthAdjust="spacingAndGlyphs" stroke="#1c1c1c" stroke-width="0.5">0.8</text>
<line x1="154.7" y1="1499.8" x2="162.2" y2="1499.8" stroke="#2b2b2b" stroke-width="3.39"/>
<text x="152.5" y="1507.9" font-size="22.5" text-anchor="end" textLength="32" lengthAdjust="spacingAndGlyphs" stroke="#1c1c1c" stroke-width="0.5">0.4</text>
<line x1="154.7" y1="1574.2" x2="162.2" y2="1574.2" stroke="#2b2b2b" stroke-width="3.39"/>
<text x="152.5" y="1582.3" font-size="22.5" text-anchor="end" textLength="32" lengthAdjust="spacingAndGlyphs" stroke="#1c1c1c" stroke-width="0.5">0.0</text>
<line x1="221.6" y1="1386.6" x2="221.6" y2="1405.8" stroke="#585858" stroke-width="2.5"/>
<line x1="214.8" y1="1386.6" x2="228.4" y2="1386.6" stroke="#585858" stroke-width="2.6"/>
<line x1="257.2" y1="1393.9" x2="257.2" y2="1413.4" stroke="#585858" stroke-width="2.5"/>
<line x1="250.4" y1="1393.9" x2="264" y2="1393.9" stroke="#585858" stroke-width="2.6"/>
<rect x="209.35" y="1405.45" width="24.8" height="167.7" fill="#fff" stroke="#1c1c1c" stroke-width="3.3" rx="0.8"/>
<rect x="243.4" y="1411.4" width="27.2" height="163.4" fill="#161616" rx="1.5"/>
<line x1="419" y1="1341.71" x2="419" y2="1574.89" stroke="#2b2b2b" stroke-width="3.39"/>
<line x1="411.5" y1="1343.4" x2="419" y2="1343.4" stroke="#2b2b2b" stroke-width="3.39"/>
<text x="407.3" y="1351.5" font-size="22.5" text-anchor="end" textLength="32" lengthAdjust="spacingAndGlyphs" stroke="#1c1c1c" stroke-width="0.5">1.2</text>
<line x1="411.5" y1="1420" x2="419" y2="1420" stroke="#2b2b2b" stroke-width="3.39"/>
<text x="407.3" y="1428.1" font-size="22.5" text-anchor="end" textLength="32" lengthAdjust="spacingAndGlyphs" stroke="#1c1c1c" stroke-width="0.5">0.8</text>
<line x1="411.5" y1="1496.6" x2="419" y2="1496.6" stroke="#2b2b2b" stroke-width="3.39"/>
<text x="407.3" y="1504.7" font-size="22.5" text-anchor="end" textLength="32" lengthAdjust="spacingAndGlyphs" stroke="#1c1c1c" stroke-width="0.5">0.4</text>
<line x1="411.5" y1="1573.2" x2="419" y2="1573.2" stroke="#2b2b2b" stroke-width="3.39"/>
<text x="407.3" y="1581.3" font-size="22.5" text-anchor="end" textLength="32" lengthAdjust="spacingAndGlyphs" stroke="#1c1c1c" stroke-width="0.5">0.0</text>
<line x1="479.3" y1="1361.9" x2="479.3" y2="1384.3" stroke="#585858" stroke-width="2.5"/>
<line x1="472.5" y1="1361.9" x2="486.1" y2="1361.9" stroke="#585858" stroke-width="2.6"/>
<line x1="515.3" y1="1423.6" x2="515.3" y2="1437.7" stroke="#585858" stroke-width="2.5"/>
<line x1="508.5" y1="1423.6" x2="522.1" y2="1423.6" stroke="#585858" stroke-width="2.6"/>
<rect x="467.55" y="1383.95" width="23.7" height="188.2" fill="#fff" stroke="#1c1c1c" stroke-width="3.3" rx="0.8"/>
<rect x="501.3" y="1435.7" width="27.7" height="138.1" fill="#161616" rx="1.5"/>
<path d="M516.16 1403.8 L516.87 1396.9 L513.73 1396.9 L514.44 1403.8Z M515.57 1404.56 L522.87 1403.05 L521.9 1400.29 L515.03 1403.04Z M514.6 1404.27 L518.41 1410.23 L520.95 1408.53 L516 1403.33Z M514.6 1403.33 L509.65 1408.53 L512.19 1410.23 L516 1404.27Z M515.57 1403.04 L508.7 1400.29 L507.73 1403.05 L515.03 1404.56Z" fill="#111" stroke="#111" stroke-width="0.4" stroke-linejoin="round"/>
<circle cx="515.3" cy="1403.8" r="1.5" fill="#111"/>
<line x1="162.2" y1="1619.31" x2="162.2" y2="1845.99" stroke="#2b2b2b" stroke-width="3.39"/>
<line x1="154.7" y1="1621" x2="162.2" y2="1621" stroke="#2b2b2b" stroke-width="3.39"/>
<text x="152.5" y="1629.1" font-size="22.5" text-anchor="end" textLength="32" lengthAdjust="spacingAndGlyphs" stroke="#1c1c1c" stroke-width="0.5">0.9</text>
<line x1="154.7" y1="1695.43" x2="162.2" y2="1695.43" stroke="#2b2b2b" stroke-width="3.39"/>
<text x="152.5" y="1703.53" font-size="22.5" text-anchor="end" textLength="32" lengthAdjust="spacingAndGlyphs" stroke="#1c1c1c" stroke-width="0.5">0.6</text>
<line x1="154.7" y1="1769.87" x2="162.2" y2="1769.87" stroke="#2b2b2b" stroke-width="3.39"/>
<text x="152.5" y="1777.97" font-size="22.5" text-anchor="end" textLength="32" lengthAdjust="spacingAndGlyphs" stroke="#1c1c1c" stroke-width="0.5">0.3</text>
<line x1="154.7" y1="1844.3" x2="162.2" y2="1844.3" stroke="#2b2b2b" stroke-width="3.39"/>
<text x="152.5" y="1852.4" font-size="22.5" text-anchor="end" textLength="32" lengthAdjust="spacingAndGlyphs" stroke="#1c1c1c" stroke-width="0.5">0.0</text>
<line x1="221.6" y1="1660.6" x2="221.6" y2="1680.7" stroke="#585858" stroke-width="2.5"/>
<line x1="214.8" y1="1660.6" x2="228.4" y2="1660.6" stroke="#585858" stroke-width="2.6"/>
<line x1="257.2" y1="1646.4" x2="257.2" y2="1658.3" stroke="#585858" stroke-width="2.5"/>
<line x1="250.4" y1="1646.4" x2="264" y2="1646.4" stroke="#585858" stroke-width="2.6"/>
<rect x="209.35" y="1680.35" width="24.8" height="162.9" fill="#fff" stroke="#1c1c1c" stroke-width="3.3" rx="0.8"/>
<rect x="243.4" y="1656.3" width="27.6" height="188.6" fill="#161616" rx="1.5"/>
<line x1="418" y1="1619.31" x2="418" y2="1846.29" stroke="#2b2b2b" stroke-width="3.39"/>
<line x1="410.5" y1="1621" x2="418" y2="1621" stroke="#2b2b2b" stroke-width="3.39"/>
<text x="406.5" y="1629.1" font-size="22.5" text-anchor="end" textLength="32" lengthAdjust="spacingAndGlyphs" stroke="#1c1c1c" stroke-width="0.5">1.5</text>
<line x1="410.5" y1="1695.53" x2="418" y2="1695.53" stroke="#2b2b2b" stroke-width="3.39"/>
<text x="406.5" y="1703.63" font-size="22.5" text-anchor="end" textLength="32" lengthAdjust="spacingAndGlyphs" stroke="#1c1c1c" stroke-width="0.5">1.0</text>
<line x1="410.5" y1="1770.07" x2="418" y2="1770.07" stroke="#2b2b2b" stroke-width="3.39"/>
<text x="406.5" y="1778.17" font-size="22.5" text-anchor="end" textLength="32" lengthAdjust="spacingAndGlyphs" stroke="#1c1c1c" stroke-width="0.5">0.5</text>
<line x1="410.5" y1="1844.6" x2="418" y2="1844.6" stroke="#2b2b2b" stroke-width="3.39"/>
<text x="406.5" y="1852.7" font-size="22.5" text-anchor="end" textLength="32" lengthAdjust="spacingAndGlyphs" stroke="#1c1c1c" stroke-width="0.5">0.0</text>
<line x1="477.2" y1="1677" x2="477.2" y2="1691" stroke="#585858" stroke-width="2.5"/>
<line x1="470.4" y1="1677" x2="484" y2="1677" stroke="#585858" stroke-width="2.6"/>
<line x1="512" y1="1658" x2="512" y2="1670.4" stroke="#585858" stroke-width="2.5"/>
<line x1="505.2" y1="1658" x2="518.8" y2="1658" stroke="#585858" stroke-width="2.6"/>
<rect x="465.95" y="1690.65" width="22.9" height="152.9" fill="#fff" stroke="#1c1c1c" stroke-width="3.3" rx="0.8"/>
<rect x="498.7" y="1668.4" width="27.1" height="176.8" fill="#161616" rx="1.5"/>
<text x="569.5" y="1690" font-size="27" textLength="51" lengthAdjust="spacingAndGlyphs">CTL</text>
<text x="662.7" y="1690" font-size="27" textLength="54" lengthAdjust="spacingAndGlyphs">DEX</text>
<line x1="559.5" y1="1709.2" x2="636" y2="1709.2" stroke="#1c1c1c" stroke-width="2.8"/>
<line x1="652" y1="1709.2" x2="728.6" y2="1709.2" stroke="#1c1c1c" stroke-width="2.8"/>
<g filter="url(#bl)">
<rect x="555.7" y="1727.9" width="177.2" height="22.3" fill="url(#g1)" stroke="#1e1e1e" stroke-width="2.8" rx="2.2"/>
<line x1="557" y1="1727.7" x2="731.5" y2="1727.7" stroke="#777" stroke-width="1.6" opacity="0.55"/>
<rect x="564" y="1735.95" width="32" height="6.5" rx="3.25" fill="#4a4a4a" opacity="0.5" filter="url(#bb)"/>
<rect x="608.5" y="1735.7" width="31" height="7" rx="3.5" fill="#4a4a4a" opacity="0.8" filter="url(#bb)"/>
<rect x="651" y="1734.3" width="29.5" height="7" rx="3.5" fill="#4a4a4a" opacity="0.95" filter="url(#bb)"/>
<rect x="693" y="1735.5" width="29.5" height="6" rx="3" fill="#4a4a4a" opacity="0.4" filter="url(#bb)"/>
<rect x="555.7" y="1760.1" width="177.2" height="20.9" fill="url(#g2)" stroke="#1e1e1e" stroke-width="2.8" rx="2.2"/>
<line x1="557" y1="1759.9" x2="731.5" y2="1759.9" stroke="#777" stroke-width="1.6" opacity="0.55"/>
<rect x="562.5" y="1767" width="36.5" height="5.6" rx="2.8" fill="#262626" opacity="1" filter="url(#bb)"/>
<rect x="608" y="1767.2" width="32.5" height="4.4" rx="2.2" fill="#262626" opacity="0.85" filter="url(#bb)"/>
<rect x="649.5" y="1766.6" width="32.5" height="4.8" rx="2.4" fill="#262626" opacity="0.95" filter="url(#bb)"/>
<rect x="691" y="1767.1" width="34" height="4.2" rx="2.1" fill="#262626" opacity="0.85" filter="url(#bb)"/>
<rect x="555.7" y="1791.7" width="177.2" height="21.5" fill="url(#g2)" stroke="#1e1e1e" stroke-width="2.8" rx="2.2"/>
<line x1="557" y1="1791.5" x2="731.5" y2="1791.5" stroke="#777" stroke-width="1.6" opacity="0.55"/>
<rect x="562.5" y="1800.3" width="32.5" height="4.2" rx="2.1" fill="#3a3a3a" opacity="0.6" filter="url(#bb)"/>
<rect x="602.5" y="1800.6" width="37.5" height="4.4" rx="2.2" fill="#3a3a3a" opacity="0.75" filter="url(#bb)"/>
<rect x="648" y="1800.3" width="36.5" height="4.4" rx="2.2" fill="#3a3a3a" opacity="0.8" filter="url(#bb)"/>
<rect x="691.5" y="1800.3" width="38" height="4.6" rx="2.3" fill="#3a3a3a" opacity="0.95" filter="url(#bb)"/>
</g>
<text x="742" y="1745.3" font-size="23.5" textLength="98" lengthAdjust="spacingAndGlyphs">G6Pase</text>
<text x="742" y="1778.9" font-size="23.5" textLength="92" lengthAdjust="spacingAndGlyphs">PEPCK</text>
<text x="742" y="1810.1" font-size="23.5" textLength="85.5" lengthAdjust="spacingAndGlyphs">&#946; actin</text>
<line x1="996.3" y1="1399.31" x2="996.3" y2="1809.69" stroke="#2b2b2b" stroke-width="3.39"/>
<line x1="987.3" y1="1401" x2="996.3" y2="1401" stroke="#2b2b2b" stroke-width="3.39"/>
<text x="985.3" y="1409" font-size="22" text-anchor="end" stroke="#1c1c1c" stroke-width="0.5">2.5</text>
<line x1="987.3" y1="1502.75" x2="996.3" y2="1502.75" stroke="#2b2b2b" stroke-width="3.39"/>
<text x="985.3" y="1510.75" font-size="22" text-anchor="end" stroke="#1c1c1c" stroke-width="0.5">2.0</text>
<line x1="987.3" y1="1604.5" x2="996.3" y2="1604.5" stroke="#2b2b2b" stroke-width="3.39"/>
<text x="985.3" y="1612.5" font-size="22" text-anchor="end" stroke="#1c1c1c" stroke-width="0.5">1.5</text>
<line x1="987.3" y1="1706.25" x2="996.3" y2="1706.25" stroke="#2b2b2b" stroke-width="3.39"/>
<text x="985.3" y="1714.25" font-size="22" text-anchor="end" stroke="#1c1c1c" stroke-width="0.5">1.0</text>
<line x1="987.3" y1="1808" x2="996.3" y2="1808" stroke="#2b2b2b" stroke-width="3.39"/>
<text x="985.3" y="1816" font-size="22" text-anchor="end" stroke="#1c1c1c" stroke-width="0.5">0.5</text>
<line x1="1034.9" y1="1849.8" x2="1296.1" y2="1849.8" stroke="#2b2b2b" stroke-width="3.39"/>
<line x1="1036.6" y1="1849.8" x2="1036.6" y2="1858.3" stroke="#2b2b2b" stroke-width="3.39"/>
<line x1="1165.5" y1="1849.8" x2="1165.5" y2="1858.3" stroke="#2b2b2b" stroke-width="3.39"/>
<line x1="1294.4" y1="1849.8" x2="1294.4" y2="1858.3" stroke="#2b2b2b" stroke-width="3.39"/>
<text x="0" y="0" font-size="22" text-anchor="middle" transform="translate(1037 1883.2) scale(1 1.1)" stroke="#1c1c1c" stroke-width="0.5">0</text>
<text x="0" y="0" font-size="22" text-anchor="middle" transform="translate(1166 1883.2) scale(1 1.1)" stroke="#1c1c1c" stroke-width="0.5">15</text>
<text x="0" y="0" font-size="22" text-anchor="middle" transform="translate(1294.2 1883.2) scale(1 1.1)" stroke="#1c1c1c" stroke-width="0.5">30</text>
<text x="0" y="0" font-size="22" textLength="40" lengthAdjust="spacingAndGlyphs" transform="translate(1311.2 1883.2) scale(1 1.06)">min</text>
<line x1="1036.8" y1="1710.2" x2="1036.8" y2="1719.2" stroke="#505050" stroke-width="2.21"/>
<line x1="1030.6" y1="1710.2" x2="1043" y2="1710.2" stroke="#505050" stroke-width="2.41"/>
<line x1="1030.6" y1="1719.2" x2="1043" y2="1719.2" stroke="#505050" stroke-width="2.41"/>
<line x1="1166" y1="1512.2" x2="1166" y2="1598.2" stroke="#505050" stroke-width="2.21"/>
<line x1="1159.8" y1="1512.2" x2="1172.2" y2="1512.2" stroke="#505050" stroke-width="2.41"/>
<line x1="1159.8" y1="1598.2" x2="1172.2" y2="1598.2" stroke="#505050" stroke-width="2.41"/>
<line x1="1294.4" y1="1466.6" x2="1294.4" y2="1542.6" stroke="#505050" stroke-width="2.21"/>
<line x1="1288.2" y1="1466.6" x2="1300.6" y2="1466.6" stroke="#505050" stroke-width="2.41"/>
<line x1="1288.2" y1="1542.6" x2="1300.6" y2="1542.6" stroke="#505050" stroke-width="2.41"/>
<path d="M1036.8 1714.7 L1166 1555.2 L1294.4 1504.6" fill="none" stroke="#3a3a3a" stroke-width="3.54" stroke-dasharray="0.35 7.4" stroke-linecap="round"/>
<circle cx="1036.8" cy="1714.7" r="5.2" fill="#fff" stroke="#141414" stroke-width="3.7"/>
<circle cx="1166" cy="1555.2" r="5.2" fill="#fff" stroke="#141414" stroke-width="3.7"/>
<circle cx="1294.4" cy="1504.6" r="5.2" fill="#fff" stroke="#141414" stroke-width="3.7"/>
<line x1="1036.8" y1="1715" x2="1036.8" y2="1744.6" stroke="#505050" stroke-width="2.21"/>
<line x1="1029.1" y1="1715" x2="1044.5" y2="1715" stroke="#505050" stroke-width="2.41"/>
<line x1="1029.1" y1="1744.6" x2="1044.5" y2="1744.6" stroke="#505050" stroke-width="2.41"/>
<line x1="1166" y1="1501" x2="1166" y2="1571" stroke="#505050" stroke-width="2.21"/>
<line x1="1158.3" y1="1501" x2="1173.7" y2="1501" stroke="#505050" stroke-width="2.41"/>
<line x1="1158.3" y1="1571" x2="1173.7" y2="1571" stroke="#505050" stroke-width="2.41"/>
<line x1="1294.4" y1="1483.8" x2="1294.4" y2="1580.8" stroke="#505050" stroke-width="2.21"/>
<line x1="1286.7" y1="1483.8" x2="1302.1" y2="1483.8" stroke="#505050" stroke-width="2.41"/>
<line x1="1286.7" y1="1580.8" x2="1302.1" y2="1580.8" stroke="#505050" stroke-width="2.41"/>
<path d="M1036.8 1729.8 L1166 1536 L1294.4 1532.3" fill="none" stroke="#2e2e2e" stroke-width="3.36" stroke-linejoin="round"/>
<circle cx="1036.8" cy="1729.8" r="7.1" fill="#141414"/>
<circle cx="1166" cy="1536" r="7.1" fill="#141414"/>
<circle cx="1294.4" cy="1532.3" r="7.1" fill="#141414"/>
<line x1="1289.9" y1="1403.1" x2="1292.9" y2="1403.1" stroke="#444" stroke-width="3.16"/>
<line x1="1297.4" y1="1403.1" x2="1320.4" y2="1403.1" stroke="#444" stroke-width="3.16"/>
<circle cx="1306.4" cy="1403.1" r="5.2" fill="#fff" stroke="#141414" stroke-width="3.7"/>
<line x1="1288.4" y1="1429.7" x2="1324.4" y2="1429.7" stroke="#2e2e2e" stroke-width="3.56"/>
<circle cx="1306.4" cy="1429.7" r="7.1" fill="#141414"/>
<text x="0" y="0" font-size="19" textLength="36" lengthAdjust="spacingAndGlyphs" font-weight="normal" fill="#333" transform="translate(1340.7 1410.74) scale(1 1.12)" stroke="#2e2e2e" stroke-width="0.95">CTL</text>
<text x="0" y="0" font-size="19" textLength="41" lengthAdjust="spacingAndGlyphs" font-weight="normal" fill="#333" transform="translate(1340.7 1437.34) scale(1 1.12)" stroke="#2e2e2e" stroke-width="0.95">DEX</text>
</g>
<g filter="url(#mid)">
<text x="1311" y="404.8" font-size="25" text-anchor="end" transform="rotate(-45 1311 404.8)" textLength="56" lengthAdjust="spacingAndGlyphs">CTL</text>
<text x="1362" y="404.5" font-size="25" text-anchor="end" transform="rotate(-45 1362 404.5)" textLength="60" lengthAdjust="spacingAndGlyphs">DEX</text>
<text x="580" y="1056.8" font-size="25" text-anchor="end" transform="rotate(-45 580 1056.8)" textLength="56" lengthAdjust="spacingAndGlyphs">CTL</text>
<text x="631.5" y="1058.6" font-size="25" text-anchor="end" transform="rotate(-45 631.5 1058.6)" textLength="60" lengthAdjust="spacingAndGlyphs">DEX</text>
<text x="1340.3" y="1072.1" font-size="25" text-anchor="end" transform="rotate(-45 1340.3 1072.1)" textLength="56" lengthAdjust="spacingAndGlyphs">CTL</text>
<text x="1391.9" y="1073.2" font-size="25" text-anchor="end" transform="rotate(-45 1391.9 1073.2)" textLength="60" lengthAdjust="spacingAndGlyphs">DEX</text>
<text x="237.5" y="1883.9" font-size="25" text-anchor="end" transform="rotate(-45 237.5 1883.9)" textLength="56" lengthAdjust="spacingAndGlyphs">CTL</text>
<text x="289" y="1884.6" font-size="25" text-anchor="end" transform="rotate(-45 289 1884.6)" textLength="60" lengthAdjust="spacingAndGlyphs">DEX</text>
<text x="492.5" y="1883.9" font-size="25" text-anchor="end" transform="rotate(-45 492.5 1883.9)" textLength="56" lengthAdjust="spacingAndGlyphs">CTL</text>
<text x="543.5" y="1884.6" font-size="25" text-anchor="end" transform="rotate(-45 543.5 1884.6)" textLength="60" lengthAdjust="spacingAndGlyphs">DEX</text>
</g>
<g filter="url(#sharp)">
<text x="1.7" y="35.7" font-size="48">A.</text>
<text x="682.8" y="40.1" font-size="48">B.</text>
<text x="11" y="702.8" font-size="48">C.</text>
<text x="682.9" y="704.3" font-size="48">D.</text>
<text x="3.8" y="1336.8" font-size="48">E.</text>
<text x="4.7" y="1621" font-size="48">F.</text>
<text x="866.7" y="1396.6" font-size="48">G.</text>
<text x="33.2" y="347.5" font-size="31" text-anchor="middle" transform="rotate(-90 33.2 347.5)">Blood glucose (mg / dl)</text>
<text x="696.2" y="306" font-size="28.8" text-anchor="middle" transform="rotate(-90 696.2 306)" textLength="342" lengthAdjust="spacingAndGlyphs">Blood glucose (mg / dl)</text>
<text x="1313.2" y="109.8" font-size="33" text-anchor="middle" textLength="68" lengthAdjust="spacingAndGlyphs">GTT</text>
<text x="1128.6" y="258.8" font-size="30" text-anchor="middle" transform="rotate(-90 1128.6 258.8)" textLength="272" lengthAdjust="spacingAndGlyphs">AUC (mg / dl / min)</text>
<text x="31.5" y="954.6" font-size="29.3" text-anchor="middle" transform="rotate(-90 31.5 954.6)" textLength="341" lengthAdjust="spacingAndGlyphs">Blood glucose (mg / dl)</text>
<text x="578" y="760.2" font-size="33" text-anchor="middle" textLength="50" lengthAdjust="spacingAndGlyphs">ITT</text>
<text x="443.4" y="912.5" font-size="30.5" text-anchor="middle" transform="rotate(-90 443.4 912.5)" textLength="189" lengthAdjust="spacingAndGlyphs">K<tspan font-size="20" dy="7.5" font-weight="normal" stroke="#1c1c1c" stroke-width="0.5">ITT</tspan><tspan dy="-7.5"> (% / min)</tspan></text>
<text x="734.1" y="966.7" font-size="29.8" text-anchor="middle" transform="rotate(-90 734.1 966.7)" textLength="341.5" lengthAdjust="spacingAndGlyphs">Blood glucose (mg / dl)</text>
<text x="1348.6" y="780.2" font-size="33" text-anchor="middle" textLength="64.5" lengthAdjust="spacingAndGlyphs">PTT</text>
<text x="1173.8" y="926.8" font-size="30" text-anchor="middle" transform="rotate(-90 1173.8 926.8)" textLength="275" lengthAdjust="spacingAndGlyphs">AUC (mg / dl / min)</text>
<text x="91" y="1467" font-size="26" text-anchor="middle" transform="rotate(-90 91 1467)" textLength="146.5" lengthAdjust="spacingAndGlyphs" font-style="italic">gcpc/rpl37a</text>
<text x="352" y="1458" font-size="26" text-anchor="middle" transform="rotate(-90 352 1458)" textLength="148" lengthAdjust="spacingAndGlyphs" font-style="italic">pck1/rpl37a</text>
<text x="90.5" y="1732.6" font-size="27" text-anchor="middle" transform="rotate(-90 90.5 1732.6)" textLength="192" lengthAdjust="spacingAndGlyphs">G6Pase/&#946; actin</text>
<text x="357.5" y="1734.8" font-size="27" text-anchor="middle" transform="rotate(-90 357.5 1734.8)" textLength="188" lengthAdjust="spacingAndGlyphs">PEPCK/&#946; actin</text>
<text x="922" y="1612" font-size="30" text-anchor="middle" transform="rotate(-90 922 1612)" textLength="224.5" lengthAdjust="spacingAndGlyphs">insulin (ng / ml)</text>
</g>
</svg>
</body></html>
